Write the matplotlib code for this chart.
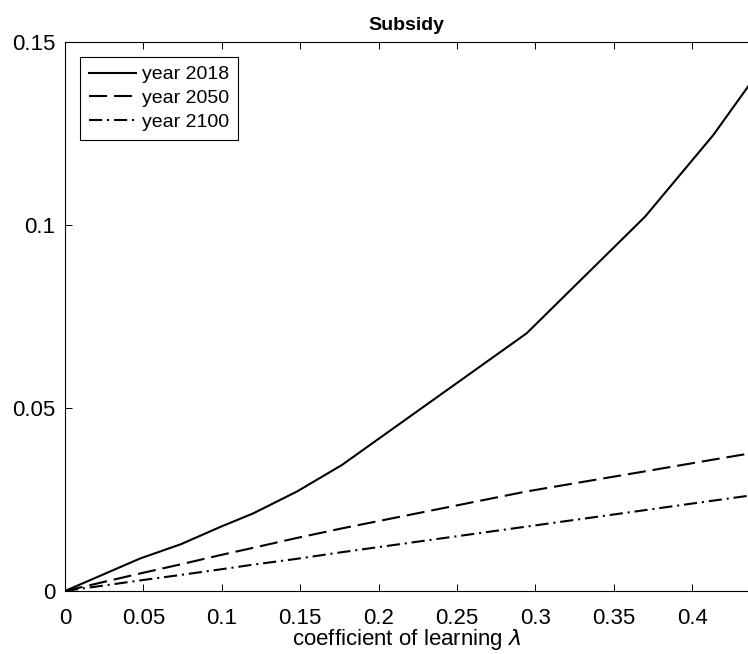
import matplotlib
matplotlib.use("Agg")
import matplotlib.pyplot as plt

plt.rcParams['font.family'] = ['Liberation Sans', 'DejaVu Sans']
plt.rcParams['mathtext.fontset'] = 'dejavusans'
plt.rcParams['lines.scale_dashes'] = False

# learning coefficient (x) and subsidy values per year
lam = [0, 0.048, 0.074, 0.099, 0.12, 0.148, 0.1765, 0.2944, 0.37, 0.4135, 0.4356]
y2018 = [0, 0.0089, 0.0128, 0.0175, 0.0212, 0.0272, 0.0344, 0.0704, 0.1023, 0.1246, 0.1378]
y2050 = [0, 0.0048, 0.0073, 0.0098, 0.0118, 0.0145, 0.0171, 0.0272, 0.0327, 0.0359, 0.0375]
y2100 = [0, 0.0029, 0.0044, 0.0059, 0.0072, 0.0088, 0.0106, 0.0176, 0.0221, 0.0247, 0.0260]

labels = ['year 2018', 'year 2050', 'year 2100']
xticks = [0, 0.05, 0.1, 0.15, 0.2, 0.25, 0.3, 0.35, 0.4]
xtick_labels = ['0', '0.05', '0.1', '0.15', '0.2', '0.25', '0.3', '0.35', '0.4']
yticks = [0, 0.05, 0.1, 0.15]
ytick_labels = ['0', '0.05', '0.1', '0.15']

fig = plt.figure(figsize=(7.48, 6.54), dpi=100)
ax = fig.add_axes([65/748, 1 - 591/654, 1 - 65/748, (591 - 42)/654])

ax.plot(lam, y2018, color='black', lw=1.5, linestyle='-', label=labels[0])
ax.plot(lam, y2050, color='black', lw=1.5, dashes=(13, 5), label=labels[1])
ax.plot(lam, y2100, color='black', lw=1.5, dashes=(9.5, 3.5, 1.5, 3.5), label=labels[2])

ax.set_xlim(0, 0.4356)
ax.set_ylim(0, 0.15)
ax.set_xticks(xticks)
ax.set_xticklabels(xtick_labels)
ax.set_yticks(yticks)
ax.set_yticklabels(ytick_labels)

ax.tick_params(direction='in', top=True, right=False, labelsize=16, length=5, width=0.7)
ax.tick_params(axis='x', pad=12)
ax.tick_params(axis='y', pad=7)
for side in ['left', 'bottom', 'top']:
    ax.spines[side].set_linewidth(0.8)
ax.spines['right'].set_visible(False)

ax.set_title('Subsidy', fontsize=14, fontweight='bold', pad=9)
ax.set_xlabel(r'coefficient of learning $\lambda$', fontsize=16, va='bottom')
ax.xaxis.set_label_coords(0.5, -(652 - 591) / 549)

leg = ax.legend(loc='upper left', bbox_to_anchor=(15/683, 1 - 15/549), fontsize=14,
                handlelength=2.45, handletextpad=0.3, borderpad=0.45, labelspacing=0.32,
                fancybox=False, framealpha=1, borderaxespad=0)
leg.get_frame().set_edgecolor('black')
leg.get_frame().set_linewidth(0.8)

fig.savefig('out.png', dpi=100)
